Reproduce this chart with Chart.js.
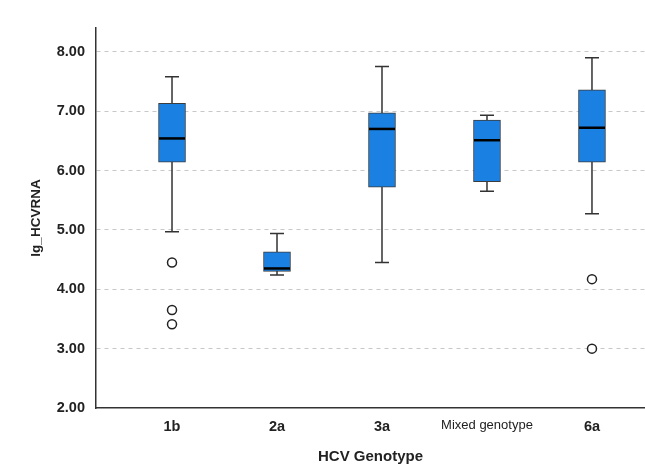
<!DOCTYPE html>
<html>
<head>
<meta charset="utf-8">
<script src="https://cdn.jsdelivr.net/npm/chart.js@4/dist/chart.umd.min.js"></script>
<style>
  html, body { margin: 0; padding: 0; background: #fff; }
  #wrap { width: 645px; height: 467px; }
</style>
</head>
<body>
<div id="wrap"><canvas id="box"></canvas></div>
<script>
// HCV genotype box plot data
const genotypes = ["1b", "2a", "3a", "Mixed genotype", "6a"];
const whiskerLow = [4.97, 4.24, 4.45, 5.65, 5.27];
const q1 = [6.14, 4.30, 5.72, 5.81, 6.14];
const median = [6.54, 4.35, 6.70, 6.51, 6.72];
const q3 = [7.13, 4.63, 6.97, 6.85, 7.36];
const whiskerHigh = [7.58, 4.94, 7.75, 6.93, 7.90];
const outlierGroup = [0, 0, 0, 4, 4];
const outlierValue = [4.45, 3.65, 3.41, 4.17, 3.00];
const yTicks = [2, 3, 4, 5, 6, 7, 8];

const fontFam = "'Liberation Sans', Arial, sans-serif";
const boxWidth = 27;
const capWidth = 14;

// whiskers, caps and medians drawn through the chart scales
const boxPlotLines = {
  id: "boxPlotLines",
  beforeDatasetsDraw(c) {
    const { ctx, scales: { x, y } } = c;
    ctx.save();
    ctx.strokeStyle = "#333";
    ctx.lineWidth = 1.5;
    genotypes.forEach((g, i) => {
      const px = x.getPixelForValue(i);
      const top = y.getPixelForValue(whiskerHigh[i]);
      const bot = y.getPixelForValue(whiskerLow[i]);
      ctx.beginPath();
      ctx.moveTo(px, top);
      ctx.lineTo(px, bot);
      ctx.moveTo(px - capWidth / 2, top);
      ctx.lineTo(px + capWidth / 2, top);
      ctx.moveTo(px - capWidth / 2, bot);
      ctx.lineTo(px + capWidth / 2, bot);
      ctx.stroke();
    });
    ctx.restore();
  },
  afterDatasetsDraw(c) {
    const { ctx, scales: { x, y } } = c;
    ctx.save();
    ctx.strokeStyle = "#000";
    ctx.lineWidth = 2.5;
    genotypes.forEach((g, i) => {
      const px = x.getPixelForValue(i);
      const py = y.getPixelForValue(median[i]);
      ctx.beginPath();
      ctx.moveTo(px - boxWidth / 2 + 0.5, py);
      ctx.lineTo(px + boxWidth / 2 - 0.5, py);
      ctx.stroke();
    });
    ctx.restore();
  }
};

new Chart(document.getElementById("box"), {
  type: "bar",
  data: {
    datasets: [
      {
        type: "bar",
        data: genotypes.map((g, i) => ({ x: i, y: [q1[i], q3[i]] })),
        backgroundColor: "#1a80e2",
        borderColor: "#3c3c3c",
        borderWidth: 1,
        borderSkipped: false,
        barThickness: boxWidth
      },
      {
        type: "scatter",
        data: outlierValue.map((v, i) => ({ x: outlierGroup[i], y: v })),
        pointStyle: "circle",
        pointRadius: 4.5,
        pointBackgroundColor: "#fff",
        pointBorderColor: "#222",
        pointBorderWidth: 1.5
      }
    ]
  },
  options: {
    responsive: true,
    maintainAspectRatio: false,
    animation: false,
    layout: { autoPadding: false, padding: { top: 28, right: 0, left: 0, bottom: 0 } },
    plugins: { legend: { display: false }, tooltip: { enabled: false } },
    scales: {
      x: {
        type: "linear",
        min: -0.724,
        max: 4.505,
        offset: false,
        afterBuildTicks: s => { s.ticks = genotypes.map((g, i) => ({ value: i })); },
        afterFit: s => { s.height = 59; s.paddingLeft = 0; s.paddingRight = 0; },
        grid: { display: false, drawTicks: false },
        border: { display: true, color: "#333", width: 1.5 },
        ticks: {
          padding: 10,
          color: "#222",
          autoSkip: false,
          maxRotation: 0,
          callback: v => genotypes[v],
          font: c => c.index === 3
            ? { family: fontFam, size: 13, weight: "normal" }
            : { family: fontFam, size: 14.5, weight: "bold" }
        },
        title: {
          display: true,
          text: "HCV Genotype",
          color: "#222",
          font: { family: fontFam, size: 15, weight: "bold" },
          padding: { top: 4, bottom: 1 }
        }
      },
      y: {
        min: 2,
        max: 8.4,
        afterBuildTicks: s => { s.ticks = yTicks.map(v => ({ value: v })); },
        afterFit: s => { s.width = 96; },
        grid: {
          drawTicks: false,
          color: c => c.tick && c.tick.value === 2 ? "rgba(0,0,0,0)" : "#c8c8c8",
          lineWidth: 1
        },
        border: { display: true, color: "#333", width: 1.5, dash: [4, 4] },
        ticks: {
          padding: 11,
          color: "#222",
          callback: v => v.toFixed(2),
          font: { family: fontFam, size: 14.5, weight: "bold" }
        },
        title: {
          display: true,
          text: "lg_HCVRNA",
          color: "#222",
          font: { family: fontFam, size: 13.5, weight: "bold" },
          padding: { top: 28, bottom: 0 }
        }
      }
    }
  },
  plugins: [boxPlotLines]
});
</script>
</body>
</html>
